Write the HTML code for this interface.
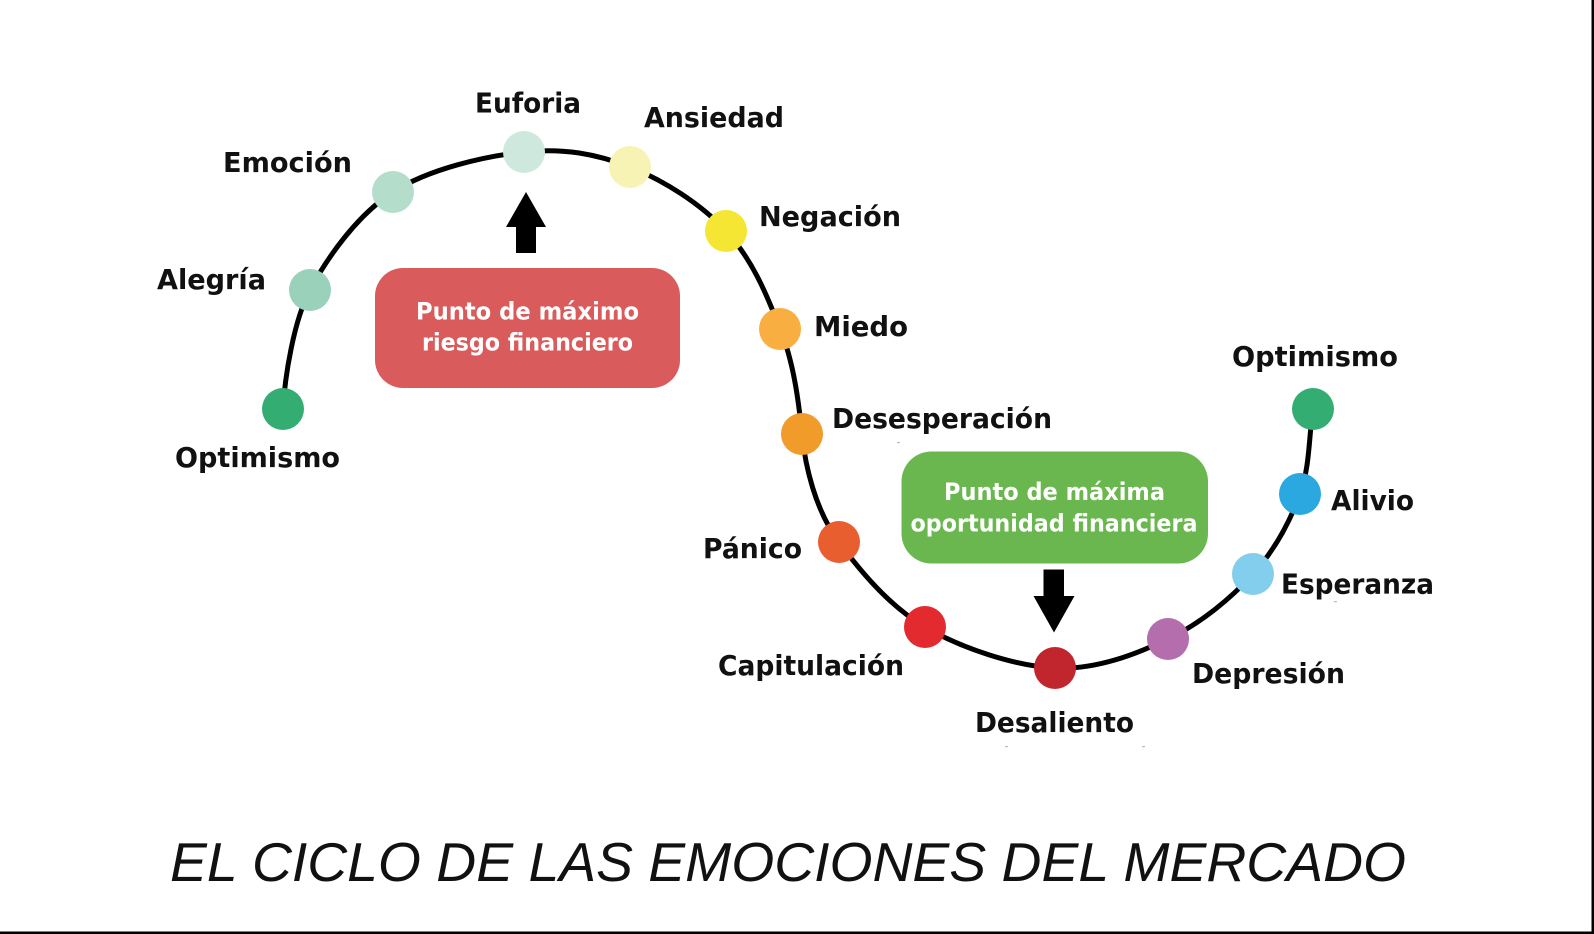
<!DOCTYPE html>
<html>
<head>
<meta charset="utf-8">
<style>
  html,body{margin:0;padding:0;background:#fff;}
  body{width:1594px;height:934px;overflow:hidden;}
  svg{display:block;}
  .lbl{font-family:"DejaVu Sans","Liberation Sans",sans-serif;font-weight:bold;font-size:28px;fill:#111;}
  .box{font-family:"DejaVu Sans","Liberation Sans",sans-serif;font-weight:bold;font-size:24px;fill:#fff;}
  .title{font-family:"Liberation Sans",sans-serif;font-style:italic;font-weight:normal;font-size:55px;fill:#111;}
</style>
</head>
<body>
<svg width="1594" height="934" viewBox="0 0 1594 934" xmlns="http://www.w3.org/2000/svg">
  <rect x="0" y="0" width="1594" height="934" fill="#fff"/>

  <!-- curve -->
  <path d="M283,409
           C285,375 294,320 310,290
           C327.6,257 357.3,215 393,192
           C428.7,169 484.5,156.2 524,152
           C563.5,147.8 596.3,153.8 630,167
           C663.7,180.2 701,204 726,231
           C751,258 766,292 780,329
           C794,362 799,405 802,434
           C805,465 815,510 839,542
           C860,571 889,606 925,627
           C961,648 1014.5,666 1055,668
           C1095.5,670 1135,654.7 1168,639
           C1201,623.3 1231,598.2 1253,574
           C1275,549.8 1290,521.5 1300,494
           C1310,466.5 1308.7,437.3 1313,409"
        fill="none" stroke="#000" stroke-width="5" stroke-linecap="round" stroke-linejoin="round"/>

  <!-- circles -->
  <circle cx="283" cy="409" r="21" fill="#34ad73"/>
  <circle cx="310" cy="290" r="21" fill="#99d1ba"/>
  <circle cx="393" cy="192" r="21" fill="#b5ddcb"/>
  <circle cx="524" cy="152" r="21" fill="#cfe8dd"/>
  <circle cx="630" cy="167" r="21" fill="#f7f3b5"/>
  <circle cx="726" cy="231" r="21" fill="#f4e632"/>
  <circle cx="780" cy="329" r="21" fill="#f8ae40"/>
  <circle cx="802" cy="434" r="21" fill="#f09b2a"/>
  <circle cx="839" cy="542" r="21" fill="#e95e2e"/>
  <circle cx="925" cy="627" r="21" fill="#e22a2f"/>
  <circle cx="1055" cy="668" r="21" fill="#c1262e"/>
  <circle cx="1168" cy="639" r="21" fill="#b56ead"/>
  <circle cx="1253" cy="574" r="21" fill="#83ceec"/>
  <circle cx="1300" cy="494" r="21" fill="#2aa8df"/>
  <circle cx="1313" cy="409" r="21" fill="#34ad73"/>

  <!-- labels -->
  <text class="lbl" x="175" y="467" textLength="165" lengthAdjust="spacingAndGlyphs">Optimismo</text>
  <text class="lbl" x="157" y="289" textLength="109" lengthAdjust="spacingAndGlyphs">Alegría</text>
  <text class="lbl" x="223" y="172" textLength="129" lengthAdjust="spacingAndGlyphs">Emoción</text>
  <text class="lbl" x="475" y="112.5" textLength="106" lengthAdjust="spacingAndGlyphs">Euforia</text>
  <text class="lbl" x="644" y="127" textLength="140" lengthAdjust="spacingAndGlyphs">Ansiedad</text>
  <text class="lbl" x="759" y="226" textLength="142" lengthAdjust="spacingAndGlyphs">Negación</text>
  <text class="lbl" x="814" y="336" textLength="94" lengthAdjust="spacingAndGlyphs">Miedo</text>
  <text class="lbl" x="832" y="428" textLength="220" lengthAdjust="spacingAndGlyphs">Desesperación</text>
  <text class="lbl" x="703" y="558" textLength="99" lengthAdjust="spacingAndGlyphs">Pánico</text>
  <text class="lbl" x="718" y="675" textLength="186" lengthAdjust="spacingAndGlyphs">Capitulación</text>
  <text class="lbl" x="975" y="732" textLength="159" lengthAdjust="spacingAndGlyphs">Desaliento</text>
  <text class="lbl" x="1192" y="683" textLength="153" lengthAdjust="spacingAndGlyphs">Depresión</text>
  <text class="lbl" x="1281" y="593.5" textLength="153" lengthAdjust="spacingAndGlyphs">Esperanza</text>
  <text class="lbl" x="1331" y="510" textLength="83" lengthAdjust="spacingAndGlyphs">Alivio</text>
  <text class="lbl" x="1232" y="366" textLength="166" lengthAdjust="spacingAndGlyphs">Optimismo</text>

  <!-- red box + up arrow -->
  <polygon points="526,192 546,227 536,227 536,253 516,253 516,227 506,227" fill="#000"/>
  <rect x="375" y="268" width="305" height="120" rx="28" ry="28" fill="#d95b5c"/>
  <text class="box" x="416" y="319.5" textLength="223" lengthAdjust="spacingAndGlyphs">Punto de máximo</text>
  <text class="box" x="422" y="350.5" textLength="211" lengthAdjust="spacingAndGlyphs">riesgo financiero</text>

  <!-- green box + down arrow -->
  <rect x="901.5" y="451.5" width="306.5" height="112" rx="30" ry="30" fill="#6ab750"/>
  <text class="box" x="944" y="500" textLength="221" lengthAdjust="spacingAndGlyphs">Punto de máxima</text>
  <text class="box" x="910.5" y="531.7" textLength="287" lengthAdjust="spacingAndGlyphs">oportunidad financiera</text>
  <polygon points="1043.5,569.5 1064,569.5 1064,596 1074.5,596 1054,632.5 1033.5,596 1043.5,596" fill="#000"/>

  <!-- tiny specks -->
  <rect x="897" y="442" width="3" height="1.2" fill="#bbb"/>
  <rect x="1334" y="601" width="3" height="1.2" fill="#bbb"/>
  <rect x="1005" y="746" width="3" height="1.2" fill="#bbb"/>
  <rect x="1142" y="746" width="3" height="1.2" fill="#bbb"/>

  <!-- title -->
  <text class="title" x="170" y="881" textLength="1236" lengthAdjust="spacingAndGlyphs">EL CICLO DE LAS EMOCIONES DEL MERCADO</text>

  <!-- borders -->
  <rect x="1591.5" y="0" width="2.5" height="934" fill="#000"/>
  <rect x="0" y="931.5" width="1594" height="2.5" fill="#000"/>
</svg>
</body>
</html>
